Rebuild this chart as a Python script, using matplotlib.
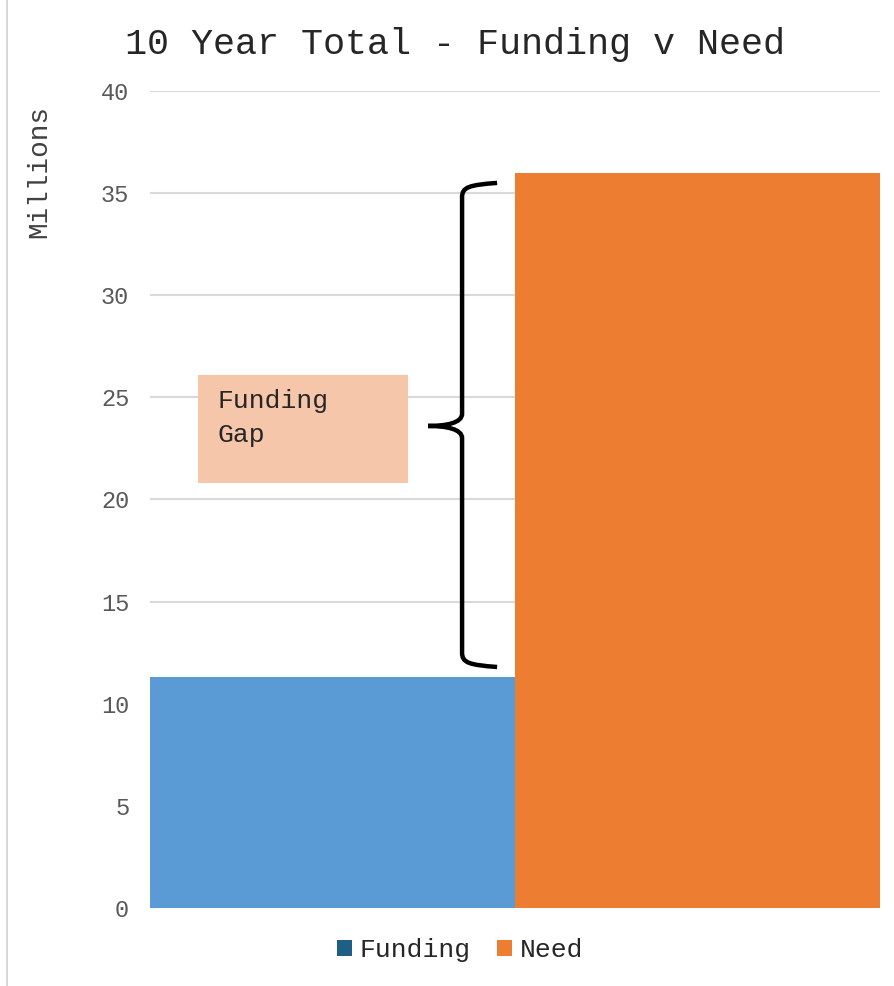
import matplotlib
matplotlib.use("Agg")
import matplotlib.pyplot as plt
from matplotlib.path import Path
from matplotlib.patches import PathPatch, Rectangle
from matplotlib.lines import Line2D

categories = ["Funding", "Need"]
values = [11.3, 36.0]
bar_colors = ["#5B9BD5", "#ED7D31"]
legend_colors = ["#1F5F86", "#ED7D31"]
yticks = [0, 5, 10, 15, 20, 25, 30, 35, 40]
title = "10 Year Total - Funding v Need"
ylabel = "Millions"
gap_label = "Funding\nGap"

MONO = ["Liberation Mono", "DejaVu Sans Mono"]

fig = plt.figure(figsize=(8.95, 9.86), dpi=100)
ax = fig.add_axes([150/895, 1-908/986, 730/895, 817/986])

x = list(range(len(categories)))
ax.bar(x, values, width=1.0, color=bar_colors, zorder=2)
ax.set_xlim(-0.5, 1.5)
ax.set_ylim(0, 40)
ax.set_yticks(yticks)
ax.set_yticklabels([str(t) for t in yticks], family=MONO, fontsize=17, color="#595959")
ax.tick_params(axis="y", length=0, pad=15)
ax.set_xticks([])
for s in ax.spines.values():
    s.set_visible(False)
ax.grid(axis="y", color="#D9D9D9", linewidth=1.5, zorder=0)
ax.set_axisbelow(True)

ax.set_ylabel(ylabel, family=MONO, fontsize=20, color="#404040")
ax.yaxis.set_label_coords(-0.134, 0.902)

fig.text(455/895, 1-45/986, title, family=MONO, fontsize=26.5, color="#262626",
         ha="center", va="center")

# Funding gap box
ax.add_patch(Rectangle((-0.368, 20.8), 0.575, 5.3, facecolor="#F6C6AB",
                       edgecolor="none", zorder=3))
ax.text(-0.315, 25.4, gap_label, family=MONO, fontsize=19, color="#262626",
        ha="left", va="top", linespacing=1.5, zorder=4)

# brace
xb, xt, xe = 0.355, 0.262, 0.451
yt, yb, ym = 35.5, 11.8, 23.6
verts = [
    (xe, yt), (xb + 0.02, yt - 0.1), (xb, yt - 0.2), (xb, yt - 0.7),
    (xb, ym + 0.6), (xb, ym + 0.15), (xt + 0.05, ym), (xt, ym),
    (xt + 0.05, ym), (xb, ym - 0.15), (xb, ym - 0.6),
    (xb, yb + 0.7), (xb, yb + 0.2), (xb + 0.02, yb + 0.1), (xe, yb),
]
codes = [Path.MOVETO, Path.CURVE4, Path.CURVE4, Path.CURVE4,
         Path.LINETO, Path.CURVE4, Path.CURVE4, Path.CURVE4,
         Path.CURVE4, Path.CURVE4, Path.CURVE4,
         Path.LINETO, Path.CURVE4, Path.CURVE4, Path.CURVE4]
ax.add_patch(PathPatch(Path(verts, codes), facecolor="none", edgecolor="black",
                       linewidth=3.2, zorder=5, capstyle="butt"))

# legend
handles = [Rectangle((0, 0), 1, 1, facecolor=c, edgecolor="none") for c in legend_colors]
leg = fig.legend(handles, categories, loc="center", bbox_to_anchor=(460/895, 1-950/986),
                 ncol=2, frameon=False, prop={"family": MONO, "size": 19},
                 handlelength=0.55, handleheight=0.55, handletextpad=0.3,
                 columnspacing=1.0, labelcolor="#262626")

# left border line
fig.add_artist(Line2D([7/895, 7/895], [0, 1], transform=fig.transFigure,
                      color="#D9D9D9", linewidth=1.5))

fig.savefig("out.png", dpi=100)
